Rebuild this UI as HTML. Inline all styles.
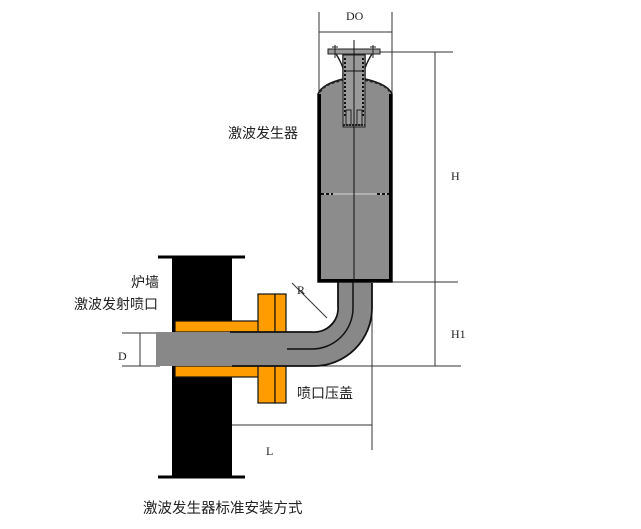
<!DOCTYPE html>
<html><head><meta charset="utf-8"><style>
html,body{margin:0;padding:0;background:#fff;}
svg{display:block;}
.cn{font-family:"Liberation Sans","Noto Sans CJK SC",sans-serif;font-size:14px;fill:#222;}
.lt{font-family:"Liberation Serif",serif;font-size:12px;fill:#222;}
</style></head><body>
<svg width="641" height="529" viewBox="0 0 641 529" xmlns="http://www.w3.org/2000/svg">
<!-- dimension lines -->
<g stroke="#333" stroke-width="1" fill="none">
  <line x1="319" y1="12" x2="319" y2="96"/>
  <line x1="392" y1="12" x2="392" y2="96"/>
  <line x1="319" y1="32" x2="392" y2="32"/>
  <line x1="370" y1="52" x2="453" y2="52"/>
  <line x1="435" y1="52" x2="435" y2="366"/>
  <line x1="372" y1="282" x2="458" y2="282"/>
  <line x1="300" y1="366" x2="461" y2="366"/>
  <line x1="372" y1="300" x2="372" y2="450"/>
  <line x1="232" y1="425" x2="372" y2="425"/>
  <line x1="122" y1="333" x2="160" y2="333"/>
  <line x1="122" y1="366" x2="160" y2="366"/>
  <line x1="140" y1="333" x2="140" y2="366"/>
  <line x1="292" y1="283" x2="327" y2="318"/>
</g>
<!-- wall -->
<rect x="172" y="257" width="60" height="220" fill="#000"/>
<line x1="158" y1="257" x2="245" y2="257" stroke="#000" stroke-width="3"/>
<line x1="158" y1="477" x2="245" y2="477" stroke="#000" stroke-width="3"/>
<!-- orange sleeve and flange -->
<g fill="#ff9c00" stroke="#111" stroke-width="1.2">
  <rect x="175" y="321" width="85" height="11"/>
  <rect x="175" y="366" width="85" height="11"/>
  <rect x="258" y="294" width="17" height="109"/>
  <rect x="275" y="294" width="11" height="109"/>
</g>
<!-- pipe -->
<path d="M156,332 L312,332 A24,24 0 0 0 338,306 L338,280 L372,280 L372,308 A58,58 0 0 1 314,366 L156,366 Z" fill="#888"/>
<path d="M230,332 L312,332 A24,24 0 0 0 338,306 L338,282" fill="none" stroke="#111" stroke-width="1.8"/>
<path d="M372,283 L372,308 A58,58 0 0 1 314,366 L232,366" fill="none" stroke="#111" stroke-width="1.8"/>
<path d="M287,349 L312,349 A41,41 0 0 0 353,308 L353,282" fill="none" stroke="#111" stroke-width="1.5"/>
<!-- generator body -->
<path d="M318,282 L318,94 Q322,84 343,79 L343,55 L365,55 L365,79 Q388,84 392,94 L392,282 Z" fill="#8c8c8c" stroke="#111" stroke-width="1.5"/>
<rect x="318" y="94" width="3" height="188" fill="#000"/>
<rect x="389" y="94" width="3" height="188" fill="#000"/>
<rect x="318" y="279" width="74" height="3" fill="#000"/>
<line x1="321" y1="194" x2="389" y2="194" stroke="#bbb" stroke-width="1.5"/>
<line x1="321" y1="194" x2="333" y2="194" stroke="#111" stroke-width="2" stroke-dasharray="3,2"/>
<line x1="377" y1="194" x2="389" y2="194" stroke="#111" stroke-width="2" stroke-dasharray="3,2"/>
<path d="M320,92 Q324,84 343,80 M365,80 Q386,84 390,92" fill="none" stroke="#222" stroke-width="2" stroke-dasharray="3,2"/>
<!-- neck / inner tube -->
<rect x="343" y="55" width="22" height="72" fill="#9a9a9a" stroke="#222" stroke-width="1"/>
<line x1="345" y1="58" x2="345" y2="118" stroke="#111" stroke-width="2" stroke-dasharray="2,2"/>
<line x1="363" y1="58" x2="363" y2="118" stroke="#111" stroke-width="2" stroke-dasharray="2,2"/>
<line x1="346" y1="71" x2="362" y2="71" stroke="#111" stroke-width="1"/>
<rect x="346" y="110" width="5" height="15" fill="none" stroke="#222" stroke-width="1"/>
<rect x="357" y="110" width="5" height="15" fill="none" stroke="#222" stroke-width="1"/>
<line x1="343" y1="125" x2="365" y2="125" stroke="#222" stroke-width="2" stroke-dasharray="2,1"/>
<path d="M336,54 Q340,60 343,68 M372,54 Q368,60 365,68" fill="none" stroke="#222" stroke-width="1.5"/>
<rect x="328" y="49" width="52" height="5" fill="#9a9a9a" stroke="#222" stroke-width="1"/>
<g stroke="#222" stroke-width="1">
  <line x1="335" y1="45" x2="335" y2="58"/><line x1="332" y1="47" x2="338" y2="47"/>
  <line x1="373" y1="45" x2="373" y2="58"/><line x1="370" y1="47" x2="376" y2="47"/>
</g>
<line x1="354" y1="40" x2="354" y2="282" stroke="#111" stroke-width="1"/>
<!-- labels -->
<text class="lt" x="346" y="20">DO</text>
<text class="cn" x="228" y="138">激波发生器</text>
<text class="lt" x="451" y="180">H</text>
<text class="lt" x="451" y="338">H1</text>
<text class="lt" x="297" y="294">R</text>
<text class="cn" x="131" y="287">炉墙</text>
<text class="cn" x="74" y="309">激波发射喷口</text>
<text class="lt" x="118" y="360">D</text>
<text class="cn" x="297" y="398">喷口压盖</text>
<text class="lt" x="266" y="455">L</text>
<text class="cn" x="143" y="513" style="font-size:14.5px">激波发生器标准安装方式</text>
</svg>
</body></html>
